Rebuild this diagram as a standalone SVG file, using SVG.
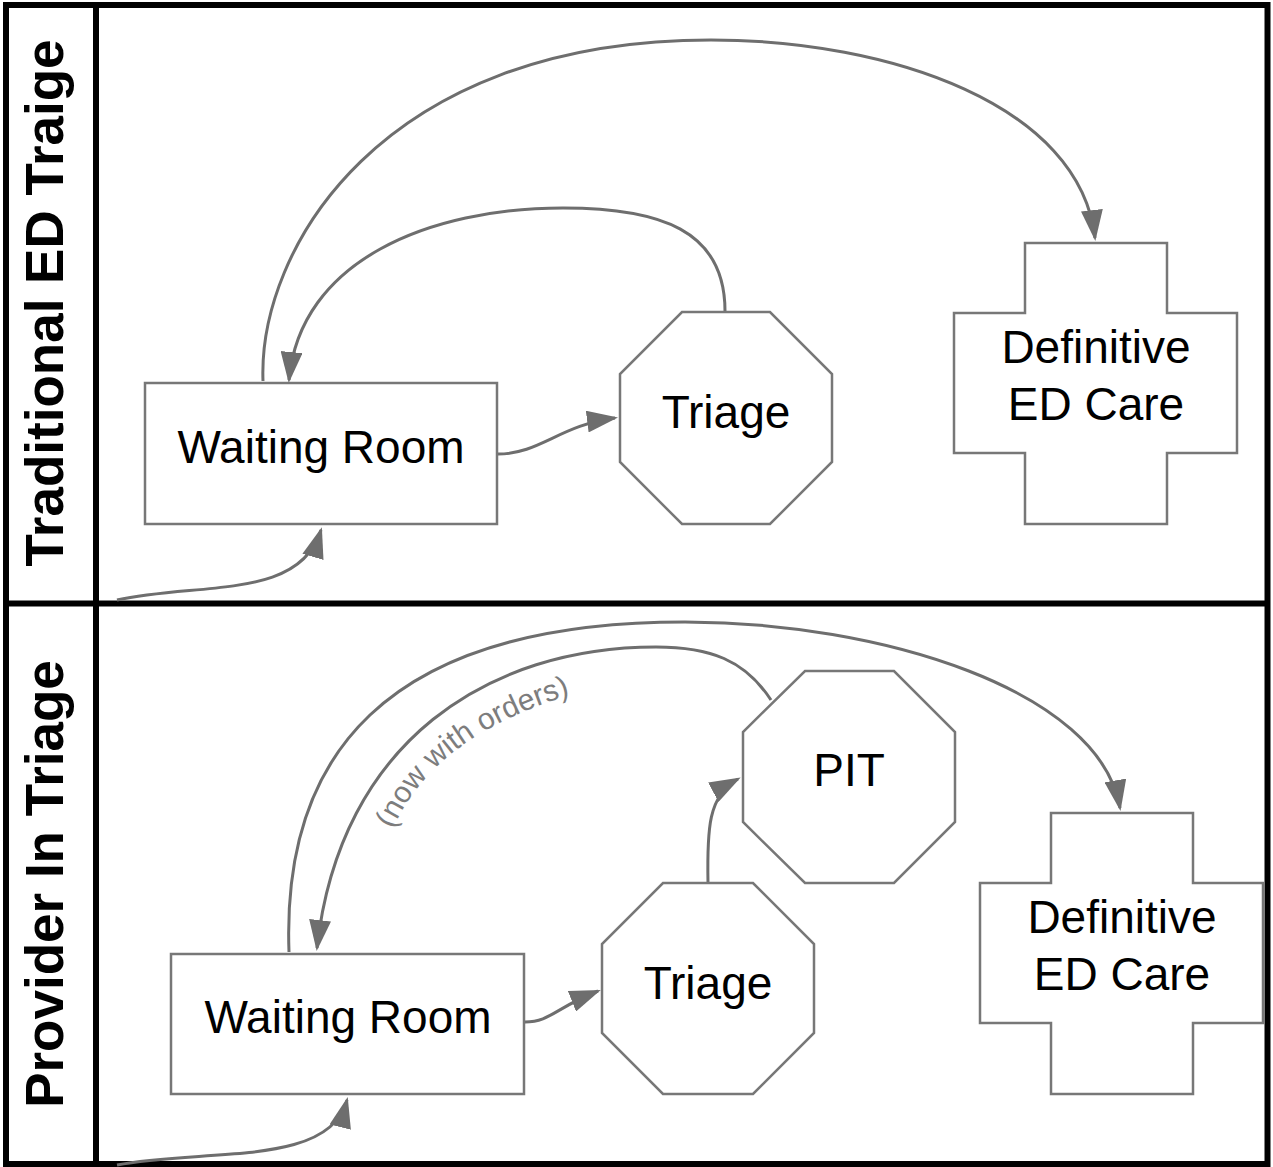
<svg xmlns="http://www.w3.org/2000/svg" width="1273" height="1167" viewBox="0 0 1273 1167">
<style>
.node{fill:#fff;stroke:#777;stroke-width:2.5}
.lbl{font-family:"Liberation Sans",Arial,sans-serif;font-size:46px;fill:#000;text-anchor:middle}
.title{font-family:"Liberation Sans",Arial,sans-serif;font-weight:bold;font-size:53px;fill:#000;text-anchor:middle}
.edge{fill:none;stroke:#6e6e6e;stroke-width:3;marker-end:url(#arr)}
.elbl{font-family:"Liberation Sans",Arial,sans-serif;font-size:30px;fill:#7d7d7d}
.frame{fill:none;stroke:#000;stroke-width:6}
</style>
<defs>
<marker id="arr" markerUnits="userSpaceOnUse" markerWidth="31" markerHeight="22" refX="28" refY="11" orient="auto">
<path d="M0,0 L31,11 L0,22 z" fill="#6e6e6e"/>
</marker>
<path id="lblpath" d="M385,850 C410,770 480,715 610,684"/>
</defs>
<rect width="1273" height="1167" fill="#fff"/>
<g id="frame">
<rect class="frame" x="6" y="5" width="1261.5" height="1159"/>
<line class="frame" x1="96" y1="5" x2="96" y2="1164"/>
<line class="frame" x1="6" y1="603.5" x2="1267.5" y2="603.5"/>
<text class="title" transform="translate(63,303) rotate(-90)">Traditional ED Traige</text>
<text class="title" transform="translate(63,884) rotate(-90)">Provider In Triage</text>
</g>
<g id="connectors">
<path class="edge" d="M117,600 C200,582 300,600 321,530"/>
<path class="edge" d="M498,454 C540,454 560,425 615,418"/>
<path class="edge" d="M725,311 C725,230 660,208 563,208 C430,208 300,260 289,380"/>
<path class="edge" d="M263,381 C258,250 380,40 711,40 C890,40 1080,105 1095,238"/>
<path class="edge" d="M117,1165 C200,1148 330,1168 347,1100"/>
<path class="edge" d="M525,1022 C550,1022 555,1008 598,991"/>
<path class="edge" d="M708,883 C707,830 708,795 738,779"/>
<path class="edge" d="M771,700 C745,660 710,647 656,647 C490,647 340,740 317,948"/>
<path class="edge" d="M289,952 C282,760 380,622 685,622 C880,622 1100,690 1120,808"/>
<text class="elbl"><textPath href="#lblpath" startOffset="22">(now with orders)</textPath></text>
</g>
<g id="wr1">
<rect class="node" x="145" y="383" width="352" height="141"/>
<text class="lbl" x="321" y="463">Waiting Room</text>
</g>
<g id="triage1">
<polygon class="node" points="682,312 770,312 832,374 832,462 770,524 682,524 620,462 620,374"/>
<text class="lbl" x="726" y="428">Triage</text>
</g>
<g id="care1">
<polygon class="node" points="1025,243 1167,243 1167,313 1237,313 1237,453 1167,453 1167,524 1025,524 1025,453 954,453 954,313 1025,313"/>
<text class="lbl" x="1096" y="363">Definitive</text>
<text class="lbl" x="1096" y="420">ED Care</text>
</g>
<g id="wr2">
<rect class="node" x="171" y="954" width="353" height="140"/>
<text class="lbl" x="348" y="1033">Waiting Room</text>
</g>
<g id="triage2">
<polygon class="node" points="663,883 753,883 814,944 814,1033 753,1094 663,1094 602,1033 602,944"/>
<text class="lbl" x="708" y="999">Triage</text>
</g>
<g id="pit">
<polygon class="node" points="805,671 894,671 955,732 955,822 894,883 805,883 743,822 743,732"/>
<text class="lbl" x="849" y="786">PIT</text>
</g>
<g id="care2">
<polygon class="node" points="1051,813 1193,813 1193,883 1263,883 1263,1023 1193,1023 1193,1094 1051,1094 1051,1023 980,1023 980,883 1051,883"/>
<text class="lbl" x="1122" y="933">Definitive</text>
<text class="lbl" x="1122" y="990">ED Care</text>
</g>
</svg>
